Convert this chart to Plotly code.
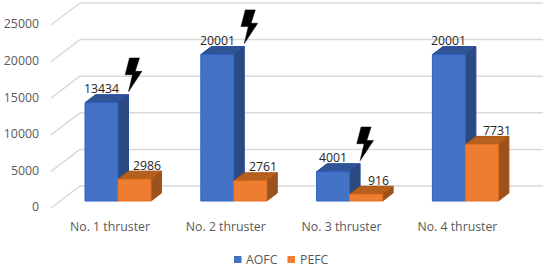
import plotly.graph_objects as go

categories = ["No. 1 thruster", "No. 2 thruster", "No. 3 thruster", "No. 4 thruster"]
aofc = [13434, 20001, 4001, 20001]
pefc = [2986, 2761, 916, 7731]
y_ticks = [0, 5000, 10000, 15000, 20000, 25000]
bolt_on = [0, 1, 2]

W, H = 546, 267
L, B = 42, 55
PX_CAT = 115.8      # px per category
PX_VAL = 0.00732    # px per value unit
X0_PX, Y0_PX = 118, 201  # pixel of category 0 / value 0 on the front plane
BAR_PX = 33
xr = [(L - X0_PX) / PX_CAT, (W - X0_PX) / PX_CAT]
yr = [(Y0_PX - (H - B)) / PX_VAL, Y0_PX / PX_VAL]

def dx(px): return px / PX_CAT
def dy(px): return px / PX_VAL

BLUE, BLUE_SIDE, BLUE_TOP, BLUE_EDGE = "#4472C4", "#2B4A82", "#2F5597", "#2F62C8"
ORG, ORG_SIDE, ORG_TOP, ORG_EDGE = "#ED7D31", "#9A531F", "#B5601F", "#E46F1E"
GRID = "#D9D9D9"
TICK = "#595959"
LABEL = "#262626"
FONT = "Open Sans"
FS = 12.3
w = BAR_PX / PX_CAT

shapes, annos = [], []

# walls: back gridlines and the diagonal floor/side lines
for t in y_ticks:
    back = t + dy(15)
    shapes.append(dict(type="line", layer="below", x0=dx(80 - 118), x1=dx(543 - 118), y0=back, y1=back,
                       line=dict(color=GRID, width=1.5)))
    shapes.append(dict(type="line", layer="below", x0=dx(51 - 118), x1=dx(80 - 118), y0=t - dy(7), y1=back,
                       line=dict(color=GRID, width=1.5)))

def box(xl, v, side, top, edge):
    xr_ = xl + w
    sx, sy = dx(10.5), dy(8)
    shapes.append(dict(type="path", layer="below",
                       path=f"M{xr_},0 L{xr_+sx},{sy} L{xr_+sx},{v+sy} L{xr_},{v} Z",
                       fillcolor=side, line=dict(color=edge, width=1)))
    shapes.append(dict(type="path", layer="below",
                       path=f"M{xl},{v} L{xl+sx},{v+sy} L{xr_+sx},{v+sy} L{xr_},{v} Z",
                       fillcolor=top, line=dict(color=edge, width=1)))

for i, (a, p) in enumerate(zip(aofc, pefc)):
    box(i - w, a, BLUE_SIDE, BLUE_TOP, "#234A96")
for i, (a, p) in enumerate(zip(aofc, pefc)):
    box(i, p, ORG_SIDE, ORG_TOP, "#A8520F")

# data labels
def label(x, v, xs):
    annos.append(dict(x=x, y=v, text=str(v), showarrow=False, xshift=xs, yshift=14,
                      font=dict(family=FONT, size=FS, color=LABEL)))
for i, (a, p) in enumerate(zip(aofc, pefc)):
    label(i - w / 2, a, 0)
    label(i + w / 2, p, 15 if i == 3 else 12.5)

# lightning bolts, anchored on the back top corner of the blue bar (y up in pixels)
BOLT = "M0,3 L13.4,23.3 L6.7,23.3 L11,36.7 L1,36.7 L-3.3,20 L4,20 Z"
for i in bolt_on:
    shapes.append(dict(type="path", layer="above", xsizemode="pixel", ysizemode="pixel",
                       xanchor=i + dx(10.5), yanchor=aofc[i] + dy(8), path=BOLT,
                       fillcolor="#000000", line=dict(color="#000000", width=0.5)))

# legend
LEG_Y = 259.5
for sx, col, name, tx in [(234, BLUE, "AOFC", 244), (287.5, ORG, "PEFC", 297.5)]:
    shapes.append(dict(type="rect", xref="paper", yref="paper",
                       x0=(sx - L) / (W - L), x1=(sx + 7.5 - L) / (W - L),
                       y0=(H - B - (LEG_Y + 3.5)) / (H - B), y1=(H - B - (LEG_Y - 3.5)) / (H - B),
                       fillcolor=col, line=dict(width=0)))
    annos.append(dict(xref="paper", yref="paper", x=(tx - L) / (W - L), y=(H - B - LEG_Y) / (H - B),
                      xanchor="left", yanchor="middle", text=name, showarrow=False,
                      font=dict(family=FONT, size=FS, color=TICK)))

fig = go.Figure()
xs = list(range(len(categories)))
fig.add_bar(x=xs, y=aofc, name="AOFC", marker=dict(color=BLUE, line=dict(color=BLUE_EDGE, width=1)), showlegend=False)
fig.add_bar(x=xs, y=pefc, name="PEFC", marker=dict(color=ORG, line=dict(color=ORG_EDGE, width=1)), showlegend=False)

fig.update_layout(
    width=W, height=H, autosize=False,
    margin=dict(l=L, r=0, t=0, b=B),
    paper_bgcolor="white", plot_bgcolor="white",
    barmode="group", bargap=1 - 2 * w, bargroupgap=0,
    shapes=shapes, annotations=annos, showlegend=False,
    font=dict(family=FONT, size=FS, color=TICK),
    xaxis=dict(range=xr, tickmode="array", tickvals=[i + dx(-8) for i in xs], ticktext=categories,
               showgrid=False, zeroline=False, showline=False, ticks="", ticklabelstandoff=6,
               tickfont=dict(family=FONT, size=FS, color=TICK)),
    yaxis=dict(range=yr, tickmode="array", tickvals=[t - dy(6) for t in y_ticks], ticktext=[str(t) for t in y_ticks],
               showgrid=False, zeroline=False, showline=False, ticks="", ticklabelstandoff=2,
               tickfont=dict(family=FONT, size=FS, color=TICK)),
)
fig.write_html("out.html", config=dict(displayModeBar=False),
               post_script="document.body.style.margin='0';document.body.style.overflow='hidden';")
